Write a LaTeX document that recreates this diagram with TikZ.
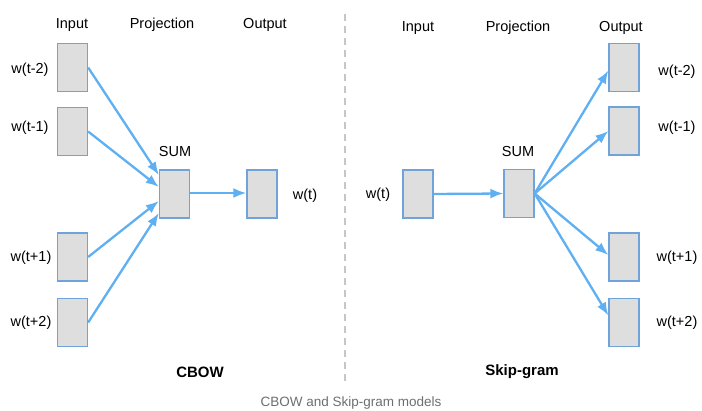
\documentclass[tikz,border=0pt]{standalone}
\usepackage{fontspec}
\setmainfont{Liberation Sans}
\usetikzlibrary{arrows.meta}
\definecolor{boxfill}{HTML}{DEDEDE}
\definecolor{boxline}{HTML}{6FA3DA}
\definecolor{arrowblue}{HTML}{5FB0F2}
\definecolor{captiongray}{HTML}{6E6E6E}
\begin{document}
\begin{tikzpicture}[x=1pt,y=-1pt,
  vec/.style={draw=boxline,fill=boxfill,line width=1.3pt,minimum width=30pt,minimum height=48pt,inner sep=0pt},
  lbl/.style={font=\fontsize{14.5}{16}\selectfont,inner sep=0pt},
  title/.style={font=\fontsize{15}{17}\selectfont\bfseries,inner sep=0pt},
  flow/.style={draw=arrowblue,line width=2.3pt,-{Latex[length=13pt,width=10pt]}}]
\useasboundingbox (0,0) rectangle (702,411);

% CBOW: four context vectors summed into one projection, predicting w(t)
\node[lbl] (hIn1)   at (72,25)  {Input};
\node[lbl] (hProj1) at (162,25) {Projection};
\node[lbl] (hOut1)  at (265,25) {Output};

\node[vec] (c1) at (72.5,67.5)  {};
\node[vec] (c2) at (72.5,131.5) {};
\node[vec] (c3) at (72.5,257)   {};
\node[vec] (c4) at (72.5,322.5) {};
\node[lbl] (lc1) at (30,70)  {w(t-2)};
\node[lbl] (lc2) at (30,128) {w(t-1)};
\node[lbl] (lc3) at (31,258) {w(t+1)};
\node[lbl] (lc4) at (31,323) {w(t+2)};

\node[vec] (csum) at (174.5,194) {};
\node[lbl] (lcsum) at (175,152) {SUM};
\node[vec] (cout) at (262,194) {};
\node[lbl] (lcout) at (305,196) {w(t)};

\draw[flow] (c1.east) -- ([yshift=19pt]csum.west);
\draw[flow] (c2.east) -- ([yshift=7pt]csum.west);
\draw[flow] (c3.east) -- ([yshift=-7pt]csum.west);
\draw[flow] (c4.east) -- ([yshift=-19pt]csum.west);
\draw[flow] ([yshift=1pt]csum.east) -- ([yshift=1pt]cout.west);

\node[title] (tc) at (200,372) {CBOW};

% separator between the two models
\coordinate (sepTop) at (345,14);
\coordinate (sepBot) at (345,383);
\draw[gray!45,line width=1.2pt,dash pattern=on 7pt off 5pt] (sepTop) -- (sepBot);

% Skip-gram: one input word projected to predict four context words
\node[lbl] (hIn2)   at (418,28) {Input};
\node[lbl] (hProj2) at (518,28) {Projection};
\node[lbl] (hOut2)  at (621,28) {Output};

\node[vec] (sin) at (418,194) {};
\node[lbl] (lsin) at (378,195) {w(t)};
\node[vec] (ssum) at (519,193.5) {};
\node[lbl] (lssum) at (518,152) {SUM};

\node[vec] (s1) at (624,67.5)  {};
\node[vec] (s2) at (624,131)   {};
\node[vec] (s3) at (624,257)   {};
\node[vec] (s4) at (624,322.5) {};
\node[lbl] (ls1) at (677,72)  {w(t-2)};
\node[lbl] (ls2) at (677,128) {w(t-1)};
\node[lbl] (ls3) at (677,258) {w(t+1)};
\node[lbl] (ls4) at (677,323) {w(t+2)};

\draw[flow] (sin.east) -- (ssum.west);
\draw[flow] (ssum.east) -- ([yshift=-3pt]s1.west);
\draw[flow] (ssum.east) -- (s2.west);
\draw[flow] (ssum.east) -- ([yshift=2pt]s3.west);
\draw[flow] (ssum.east) -- ([yshift=7pt]s4.west);

\node[title] (ts) at (522,372) {Skip-gram};

\node[font=\fontsize{13.5}{15}\selectfont,text=captiongray,inner sep=0pt] (cap) at (351,403) {CBOW and Skip-gram models};
\end{tikzpicture}
\end{document}
